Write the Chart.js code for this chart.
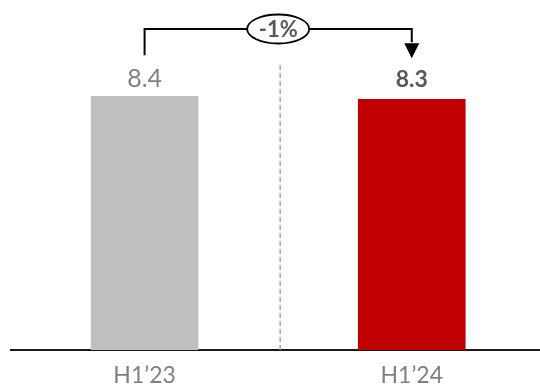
<!DOCTYPE html>
<html>
<head>
<meta charset="utf-8">
<script src="https://cdn.jsdelivr.net/npm/chart.js@4"></script>
<style>
  html, body { margin: 0; padding: 0; background: #fff; }
  #wrap { width: 540px; height: 387px; }
</style>
</head>
<body>
<div id="wrap"><canvas id="c" width="540" height="387"></canvas></div>
<script>
// Half-year values
const categories = ["H1\u201923", "H1\u201924"];
const values = [8.4, 8.3];
const barColors = ["#bfbfbf", "#c00000"];
const valueLabels = ["8.4", "8.3"];
const changeLabel = "-1%";

const FONT = "Lato, 'Open Sans', sans-serif";

// Value labels, change bracket and separator line
const annotations = {
  id: "annotations",
  afterDatasetsDraw(chart) {
    const ctx = chart.ctx;
    const bars = chart.getDatasetMeta(0).data;
    const area = chart.chartArea;
    const a = bars[0], b = bars[1];

    ctx.save();

    // dashed separator between the two periods
    const midX = (a.x + b.x) / 2 + 2;
    ctx.strokeStyle = "#a6a6a6";
    ctx.lineWidth = 1.5;
    ctx.setLineDash([5, 3]);
    ctx.beginPath();
    ctx.moveTo(midX, 65);
    ctx.lineTo(midX, area.bottom);
    ctx.stroke();
    ctx.setLineDash([]);

    // value labels above bars
    ctx.textAlign = "center";
    ctx.textBaseline = "alphabetic";
    ctx.fillStyle = "#808080";
    ctx.font = "400 25px " + FONT;
    ctx.fillText(valueLabels[0], a.x, a.y - 9);
    ctx.fillStyle = "#595959";
    ctx.font = "700 23px " + FONT;
    ctx.fillText(valueLabels[1], b.x, b.y - 12);

    // bracket with arrow
    const topY = 29;
    ctx.strokeStyle = "#000";
    ctx.lineWidth = 2;
    ctx.beginPath();
    ctx.moveTo(a.x, a.y - 41);
    ctx.lineTo(a.x, topY);
    ctx.lineTo(b.x, topY);
    ctx.lineTo(b.x, b.y - 57);
    ctx.stroke();
    ctx.fillStyle = "#000";
    ctx.beginPath();
    ctx.moveTo(b.x - 7.5, b.y - 56);
    ctx.lineTo(b.x + 7.5, b.y - 56);
    ctx.lineTo(b.x, b.y - 41);
    ctx.closePath();
    ctx.fill();

    // change badge
    const cx = (a.x + b.x) / 2;
    ctx.beginPath();
    ctx.ellipse(cx, topY, 31, 14.5, 0, 0, Math.PI * 2);
    ctx.fillStyle = "#fff";
    ctx.fill();
    ctx.lineWidth = 1.8;
    ctx.stroke();
    ctx.fillStyle = "#595959";
    ctx.font = "700 22px " + FONT;
    ctx.textBaseline = "middle";
    ctx.fillText(changeLabel, cx, topY + 1);

    ctx.restore();
  }
};

new Chart(document.getElementById("c"), {
  type: "bar",
  data: {
    datasets: [{
      data: values.map((v, i) => ({ x: i, y: v })),
      backgroundColor: barColors,
      borderWidth: 0,
      barThickness: 107
    }]
  },
  options: {
    responsive: false,
    animation: false,
    layout: { padding: { left: 11, right: 0, top: 48, bottom: 0 } },
    plugins: { legend: { display: false }, tooltip: { enabled: false } },
    scales: {
      x: {
        type: "linear",
        offset: false,
        bounds: "ticks",
        min: -0.5,
        max: 1.48,
        grid: { display: false, drawTicks: false },
        border: { display: true, color: "#1a1a1a", width: 2 },
        afterBuildTicks(scale) { scale.ticks = categories.map((_, i) => ({ value: i })); },
        afterFit(scale) { scale.height = 37; },
        ticks: {
          padding: 12,
          color: "#808080",
          font: { family: FONT, size: 23 },
          callback: (v) => categories[v]
        }
      },
      y: {
        display: false,
        min: 0,
        max: 10
      }
    }
  },
  plugins: [annotations]
});
</script>
</body>
</html>
